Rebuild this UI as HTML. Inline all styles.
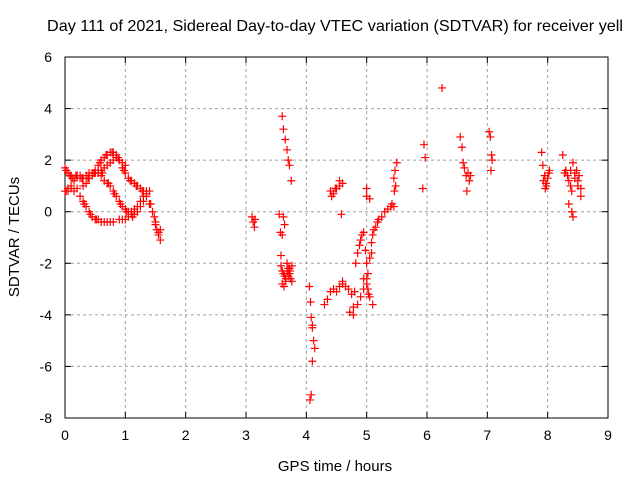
<!DOCTYPE html>
<html><head><meta charset="utf-8"><style>
body{margin:0;background:#fff}
svg{display:block;font-family:"Liberation Sans",sans-serif}
</style></head><body>
<svg id="chart" width="640" height="480" viewBox="0 0 640 480">
<rect width="640" height="480" fill="#fff"/>
<g id="grid"></g>
<g id="axes"></g>
<g id="marks"></g>
<text x="47" y="31" font-size="16" textLength="576" lengthAdjust="spacingAndGlyphs">Day 111 of 2021, Sidereal Day-to-day VTEC variation (SDTVAR) for receiver yell</text>
<text x="335" y="471" font-size="15" text-anchor="middle">GPS time / hours</text>
<text transform="translate(19,237) rotate(-90)" font-size="15" text-anchor="middle">SDTVAR / TECUs</text>
</svg>
<script>
const xTicks=[0,1,2,3,4,5,6,7,8,9];
const yTicks=[-8,-6,-4,-2,0,2,4,6];
const hours=[0,0.02,0.05,0.08,0.1,0.15,0.2,0.25,0.3,0.35,0.4,0.45,0.5,0.55,0.6,0.65,0.7,0.75,0.8,0.85,0.9,0.95,1.0,1.05,1.1,1.15,1.2,1.25,1.3,1.35,1.4,1.45,1.5,1.52,1.55,1.58,
0.02,0.05,0.1,0.15,0.2,0.25,0.3,0.35,0.4,0.45,0.5,0.55,0.6,0.65,0.7,0.8,0.9,1.0,1.05,1.1,1.15,1.2,1.25,1.3,1.35,1.4,
0.55,0.6,0.65,0.7,0.75,0.8,0.85,0.9,0.95,1.0,1.05,1.1,1.15,1.2,1.25,1.3,1.35,1.42,1.48,1.5,1.55,1.58,
0.0,0.05,0.1,0.15,0.2,0.25,0.3,0.35,0.4,0.45,0.5,0.55,0.6,0.65,0.7,0.75,0.8,0.85,0.9,0.95,1.0,
0.12,0.18,0.28,0.38,0.48,0.58,0.68,0.78,0.88,0.98,1.08,1.18,1.28,0.62,0.72,0.82,0.92,1.02,1.12,0.32,0.42,0.52,0.75,0.95,
3.1,3.12,3.14,3.15,
3.55,3.57,3.58,3.6,3.62,3.64,3.66,3.68,3.7,3.72,3.74,3.76,3.6,3.62,3.65,3.68,3.7,3.72,3.75,3.58,3.6,3.63,3.66,3.7,3.73,3.76,3.6,3.62,3.64,3.68,3.72,
4.05,4.07,4.08,4.1,4.12,4.14,4.1,4.06,4.08,4.1,
4.3,4.35,4.4,4.45,4.5,4.55,4.6,4.65,4.7,4.75,4.8,4.72,4.78,4.85,4.9,4.95,4.6,4.78,
4.4,4.45,4.5,4.55,4.6,4.42,4.48,4.55,4.58,
4.82,4.85,4.88,4.9,4.92,4.95,4.98,5.0,5.02,5.05,5.08,5.1,5.12,5.15,5.18,5.2,5.25,5.3,5.35,5.4,5.42,5.45,5.0,5.02,4.95,5.05,5.1,5.0,5.05,5.08,5.0,5.03,5.0,
5.45,5.47,5.5,5.48,5.46,
5.93,5.95,5.97,6.25,6.55,6.58,6.6,6.62,6.65,6.68,6.7,6.72,6.66,
7.03,7.05,7.07,7.06,7.08,
7.9,7.92,7.95,7.97,8.0,8.02,7.93,7.98,8.03,7.96,
8.25,8.28,8.3,8.33,8.35,8.38,8.4,8.42,8.45,8.48,8.5,8.52,8.55,8.3,8.35,8.4,8.38,8.42,8.45,8.5,8.55];
const values=[1.7,1.6,1.5,1.4,1.4,1.3,1.4,1.4,1.3,1.4,1.5,1.5,1.6,1.8,2.0,2.1,2.2,2.3,2.3,2.2,2.0,1.7,1.5,1.3,1.2,1.1,1.0,0.9,0.8,0.6,0.3,0.0,-0.4,-0.7,-0.9,-1.1,
0.8,0.9,0.9,0.8,0.9,0.6,0.4,0.2,0.0,-0.2,-0.3,-0.3,-0.4,-0.4,-0.4,-0.4,-0.3,-0.3,-0.2,0.0,0.1,0.2,0.4,0.6,0.8,0.8,
1.6,1.4,1.2,1.1,1.0,0.8,0.6,0.4,0.2,0.1,0.0,-0.1,-0.1,0.0,0.2,0.4,0.7,0.3,-0.2,-0.5,-0.8,-0.7,
0.8,0.8,1.0,1.2,1.4,1.3,1.0,1.1,1.3,1.4,1.5,1.5,1.6,1.7,1.8,1.9,2.0,2.1,2.0,1.9,1.8,
1.3,1.4,1.3,1.3,1.5,1.9,2.2,2.3,2.1,1.6,1.2,1.0,0.8,1.5,1.1,0.7,0.3,0.0,-0.2,0.3,-0.1,-0.3,-0.4,-0.3,
-0.2,-0.4,-0.6,-0.3,
-0.1,-0.8,-1.7,-2.3,-2.4,-2.5,-2.6,-2.3,-2.2,-2.4,-2.6,-2.7,3.7,3.2,2.8,2.4,2.0,1.8,1.2,-2.1,-2.8,-2.9,-2.7,-2.5,-2.3,-2.1,-0.9,-0.2,-0.5,-2.0,-2.2,
-2.9,-3.5,-4.1,-4.5,-5.0,-5.3,-5.8,-7.3,-7.1,-4.4,
-3.6,-3.4,-3.1,-3.0,-3.1,-2.9,-2.8,-2.9,-3.0,-3.2,-3.1,-3.9,-4.0,-3.6,-3.3,-3.0,-2.7,-3.7,
0.8,0.7,0.9,1.0,1.1,0.6,0.9,1.2,-0.1,
-2.0,-1.6,-1.3,-1.1,-0.9,-0.8,-1.5,-2.0,-2.4,-1.8,-1.2,-0.9,-0.7,-0.6,-0.4,-0.3,-0.2,0.0,0.1,0.2,0.3,0.2,-2.8,-3.0,-2.6,-3.3,-3.6,0.9,0.5,-1.6,-2.6,-3.2,0.6,
1.3,1.6,1.9,1.0,0.8,
0.9,2.6,2.1,4.8,2.9,2.5,1.9,1.7,1.4,1.5,1.2,1.4,0.8,
3.1,2.9,2.2,1.6,2.0,
2.3,1.8,1.4,1.1,1.3,1.5,1.2,1.0,1.6,0.9,
2.2,1.5,1.6,1.4,0.3,1.0,0.0,-0.2,1.3,1.6,1.2,1.4,0.6,1.6,1.2,0.8,1.6,1.9,1.5,1.0,0.9];
const X0=65,X1=608,Y0=418,Y1=57;
const xs=h=>X0+(h-0)/9*(X1-X0);
const ys=v=>Y0-(v+8)/14*(Y0-Y1);
const NS='http://www.w3.org/2000/svg';
const grid=document.getElementById('grid'),axes=document.getElementById('axes'),marks=document.getElementById('marks');
function mk(tag,attrs,parent){const e=document.createElementNS(NS,tag);for(const k in attrs)e.setAttribute(k,attrs[k]);parent.appendChild(e);return e;}
xTicks.forEach(t=>{const x=xs(t);
 if(t>0&&t<9){const g=mk('line',{x1:x,y1:Y1,x2:x,y2:Y0,stroke:'#a0a0a0','stroke-dasharray':'3,3'},grid);
 
 }
 const tk=mk('line',{x1:x,y1:Y0,x2:x,y2:Y0-6,stroke:'#000'},axes);
 
 
 const tk2=mk('line',{x1:x,y1:Y1,x2:x,y2:Y1+6,stroke:'#000'},axes);
 
 
 const l=mk('text',{x:x,y:Y0+22,'font-size':14,'text-anchor':'middle'},axes);l.textContent=t;
 
 });
yTicks.forEach(t=>{const y=ys(t);
 if(t>-8&&t<6){const g=mk('line',{x1:X0,y1:y,x2:X1,y2:y,stroke:'#a0a0a0','stroke-dasharray':'3,3'},grid);
 
 }
 const tk=mk('line',{x1:X0,y1:y,x2:X0+6,y2:y,stroke:'#000'},axes);
 
 
 const tk2=mk('line',{x1:X1,y1:y,x2:X1-6,y2:y,stroke:'#000'},axes);
 
 
 const l=mk('text',{x:X0-13,y:y+5,'font-size':14,'text-anchor':'end'},axes);l.textContent=t;
 
 });
const fr=mk('rect',{x:X0,y:Y1,width:X1-X0,height:Y0-Y1,fill:'none',stroke:'#000'},axes);


hours.forEach((h,i)=>{const x=xs(h),y=ys(values[i]);
 const p=mk('path',{d:`M${x-4},${y}H${x+4}M${x},${y-4}V${y+4}`,stroke:'#f00','stroke-width':1.2,fill:'none'},marks);
 
 });
</script>
</body></html>
